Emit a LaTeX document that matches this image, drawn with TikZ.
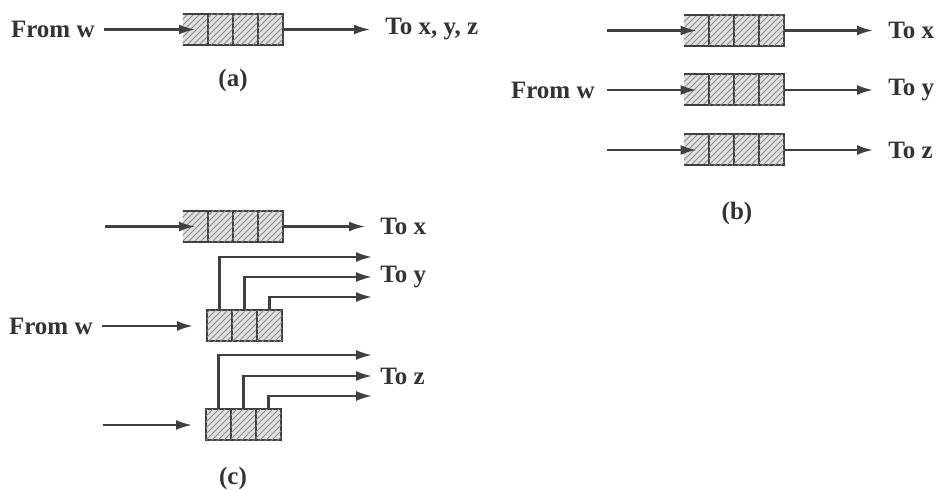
\documentclass[tikz,border=0pt]{standalone}
\usepackage{fontspec}
\setmainfont{Liberation Serif}
\usepackage{tikz}
\usetikzlibrary{arrows.meta,positioning,patterns}

\begin{document}
\begin{tikzpicture}[x=0.5pt, y=-0.5pt,
    cell/.style={draw=black!75, line width=1pt, outer sep=0pt, inner sep=0pt,
      minimum width=12.5pt, minimum height=15.5pt, fill=black!12,
      postaction={pattern=north east lines, pattern color=black!45}},
    tailcell/.style={cell, draw=none},
    lbl/.style={font=\bfseries\fontsize{12.5}{15}\selectfont, text=black!80, inner sep=1.5pt},
    arr/.style={-{Latex[length=8pt, width=5pt]}, line width=1.1pt, draw=black!75},
    rim/.style={line width=1pt, draw=black!75}
]
\useasboundingbox (0,0) rectangle (940,490);

% (a) one queue for all
\node[tailcell] (a0) at (195,29.5) {};
\node[cell, right=0pt of a0] (a1) {};
\node[cell, right=0pt of a1] (a2) {};
\node[cell, right=0pt of a2] (a3) {};
\draw[rim] (a0.north west) -- (a0.north east) (a0.south west) -- (a0.south east);
\node[lbl, anchor=east] (fa) at (98,29.5) {From w};
\node[lbl, anchor=west] (ta) at (382,29.5) {To x, y, z};
\draw[arr, shorten <=3pt] (fa.east) -- (a0.center);
\draw[arr, shorten >=6pt] (a3.east) -- (ta.west);
\node[lbl] (capa) at (233,80) {(a)};

% (b) one queue per output
\foreach \r/\y/\t in {1/30.5/x, 2/90/y, 3/150/z} {
  \node[tailcell] (b\r0) at (696.5,\y) {};
  \node[cell, right=0pt of b\r0] (b\r1) {};
  \node[cell, right=0pt of b\r1] (b\r2) {};
  \node[cell, right=0pt of b\r2] (b\r3) {};
  \draw[rim] (b\r0.north west) -- (b\r0.north east) (b\r0.south west) -- (b\r0.south east);
  \coordinate (bin\r) at (607,\y);
  \node[lbl, anchor=west] (tb\r) at (885,\y) {To \t};
  \draw[arr] (bin\r) -- (b\r0.center);
  \draw[arr, shorten >=6pt] (b\r3.east) -- (tb\r.west);
}
\node[lbl, anchor=east] (fb) at (598,90) {From w};
\node[lbl] (capb) at (737,213) {(b)};

% (c) shared queues
\node[tailcell] (c0) at (195,226.5) {};
\node[cell, right=0pt of c0] (c1) {};
\node[cell, right=0pt of c1] (c2) {};
\node[cell, right=0pt of c2] (c3) {};
\draw[rim] (c0.north west) -- (c0.north east) (c0.south west) -- (c0.south east);
\coordinate (cin) at (105,226.5);
\node[lbl, anchor=west] (tcx) at (377,226.5) {To x};
\draw[arr] (cin) -- (c0.center);
\draw[arr, shorten >=6pt] (c3.east) -- (tcx.west);

\node[cell] (m1) at (219.5,326) {};
\node[cell, right=0pt of m1] (m2) {};
\node[cell, right=0pt of m2] (m3) {};
\node[lbl, anchor=east] (fc) at (96,326) {From w};
\draw[arr, shorten <=3pt, shorten >=7pt] (fc.east) -- (m1.west);
\coordinate (my1) at (372,257);
\coordinate (my2) at (372,277);
\coordinate (my3) at (372,297);
\draw[arr] (m1.north) |- (my1);
\draw[arr] (m2.north) |- (my2);
\draw[arr] (m3.north) |- (my3);
\node[lbl, anchor=west] (tcy) at (377,277) {To y};

\node[cell] (n1) at (218.5,425) {};
\node[cell, right=0pt of n1] (n2) {};
\node[cell, right=0pt of n2] (n3) {};
\coordinate (nin) at (103,425);
\draw[arr, shorten >=7pt] (nin) -- (n1.west);
\coordinate (nz1) at (372,355);
\coordinate (nz2) at (372,376);
\coordinate (nz3) at (372,396);
\draw[arr] (n1.north) |- (nz1);
\draw[arr] (n2.north) |- (nz2);
\draw[arr] (n3.north) |- (nz3);
\node[lbl, anchor=west] (tcz) at (377,376) {To z};
\node[lbl] (capc) at (233,478) {(c)};
\end{tikzpicture}
\end{document}
